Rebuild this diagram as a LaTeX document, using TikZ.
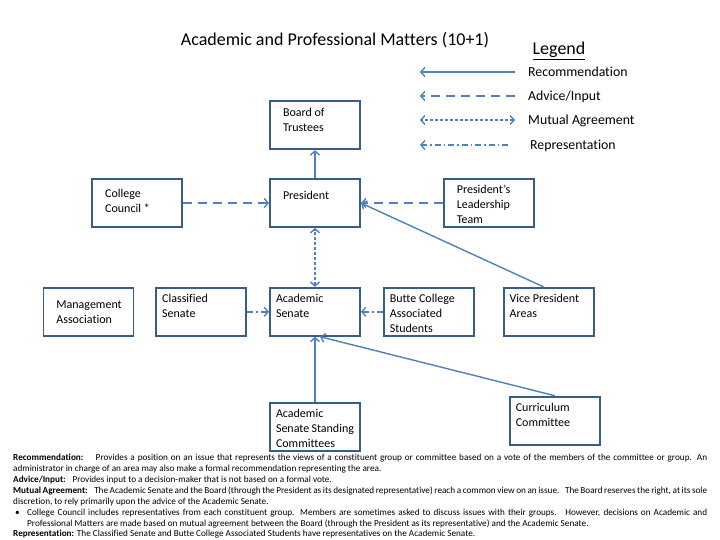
\documentclass[tikz,border=0pt]{standalone}
\usepackage{fontspec}
\setmainfont{Carlito}[Ligatures=NoCommon]
\usetikzlibrary{positioning,arrows.meta}
\definecolor{boxblue}{RGB}{56,93,138}
\definecolor{linkblue}{RGB}{79,129,189}
\newcommand{\unittext}[2][78pt]{\parbox[c][39pt][t]{#1}{\raggedright\strut #2}}

\begin{document}
\begin{tikzpicture}[
    x=1pt, y=-1pt,
    >={Straight Barb[length=4pt,width=9pt]},
    unit/.style={rectangle, draw=boxblue, line width=1.8pt, inner xsep=6pt, inner ysep=4.5pt, font=\fontsize{12}{15}\selectfont},
    toprow/.style={unit, inner xsep=13pt},
    link/.style={draw=linkblue, line width=1.4pt},
    recommend/.style={link, ->},
    advice/.style={link, ->, dash pattern=on 9pt off 6pt},
    mutual/.style={link, <->, dash pattern=on 3pt off 2pt},
    represent/.style={link, ->, dash pattern=on 6pt off 3pt on 1.5pt off 3pt},
    legtext/.style={anchor=base west, inner sep=0pt, font=\fontsize{13.8}{16}\selectfont},
    notes/.style={anchor=north west, text width=694pt, align=justify, inner sep=0pt, font=\fontsize{9.2}{10.9}\selectfont}
]
    \useasboundingbox (0,0) rectangle (720,540);

    % Title and legend
    \node[font=\fontsize{18}{21}\selectfont] (title) at (335,40) {Academic and Professional Matters (10+1)};
    \node[font=\fontsize{18}{21}\selectfont] (legend) at (559,51) {\underline{Legend}};
    \node[legtext] (lrec) at (528,76.5) {Recommendation};
    \node[legtext] (ladv) at (528,100.5) {Advice/Input};
    \node[legtext] (lmut) at (528,124.5) {Mutual Agreement};
    \node[legtext] (lrep) at (530,149.5) {Representation};
    \coordinate (rec-r) at (515,72);  \coordinate (rec-l) at (420,72);
    \coordinate (adv-r) at (515,96);  \coordinate (adv-l) at (420,96);
    \coordinate (mut-r) at (515,120); \coordinate (mut-l) at (420,120);
    \coordinate (rep-r) at (508,145); \coordinate (rep-l) at (420,145);

    % Top row
    \node[toprow] (pres) at (315,203) {\unittext[64pt]{\raisebox{-6pt}{President}}};
    \node[toprow, above=28pt of pres] (board) {\unittext[64pt]{Board of\\Trustees}};
    \node[toprow, left=86pt of pres] (council) {\unittext[64pt]{\raisebox{-3pt}{College}\\\raisebox{-3pt}{Council *}}};
    \node[toprow, right=82pt of pres] (plt) {\unittext[64pt]{President’s\\Leadership\\Team}};

    % Senate row
    \node[unit, below=59pt of pres] (acsen) {\unittext{Academic\\Senate}};
    \node[unit, left=22pt of acsen] (classsen) {\unittext{Classified\\Senate}};
    \node[toprow, left=21pt of classsen] (mgmt) {\unittext[64pt]{\raisebox{-6pt}{Management}\\\raisebox{-6pt}{Association}}};
    \node[unit, right=22pt of acsen] (butte) {\unittext{Butte~College\\Associated\\Students}};
    \node[unit, right=28pt of butte] (vp) {\unittext{Vice~President\\Areas}};

    % Committees
    \node[unit, below=65pt of acsen] (standing) {\unittext{Academic\\Senate~Standing\\Committees}};
    \node[unit, below right=59pt and 148pt of acsen] (curric) {\unittext{Curriculum\\Committee}};

    % Legend lines
    \draw[recommend] (rec-r) -- (rec-l);
    \draw[advice] (adv-r) -- (adv-l);
    \draw[mutual] (mut-r) -- (mut-l);
    \draw[represent] (rep-r) -- (rep-l);

    % Edges
    \draw[recommend] (pres) -- (board);
    \draw[advice] (council.east) -- (pres.west |- council.east);
    \draw[advice] (plt.west) -- (pres.east |- plt.west);
    \draw[recommend] ([xshift=-5pt]vp.north) -- (pres.east);
    \draw[mutual] (acsen) -- (pres);
    \draw[represent] (classsen) -- (acsen);
    \draw[represent] (butte.west) -- (acsen.east |- butte.west);
    \draw[recommend] (standing) -- (acsen);
    \draw[recommend] (curric.north) -- ([xshift=5pt]acsen.south);

    % Notes
    \node[notes] (defs) at (13,454) {%
        \textbf{Recommendation:}\hspace{8pt} Provides a position on an issue that represents the views of a constituent group or committee based on a vote of the members of the committee or group. An\linebreak
        administrator in charge of an area may also make a formal recommendation representing the area.\par
        \textbf{Advice/Input:}\hspace{4pt} Provides input to a decision-maker that is not based on a formal vote.\par
        \textbf{Mutual Agreement:}\hspace{4pt} The Academic Senate and the Board (through the President as its designated representative) reach a common view on an issue.\hspace{3pt} The Board reserves the right, at its sole\linebreak
        discretion, to rely primarily upon the advice of the Academic Senate.\par
        \hangindent=14pt\hangafter=1\noindent\makebox[14pt][l]{\hspace{2pt}\textbullet}College Council includes representatives from each constituent group. Members are sometimes asked to discuss issues with their groups.\hspace{3pt} However, decisions on Academic and\linebreak
        Professional Matters are made based on mutual agreement between the Board (through the President as its representative) and the Academic Senate.\par
        \textbf{Representation:} The Classified Senate and Butte College Associated Students have representatives on the Academic Senate.};
\end{tikzpicture}
\end{document}
